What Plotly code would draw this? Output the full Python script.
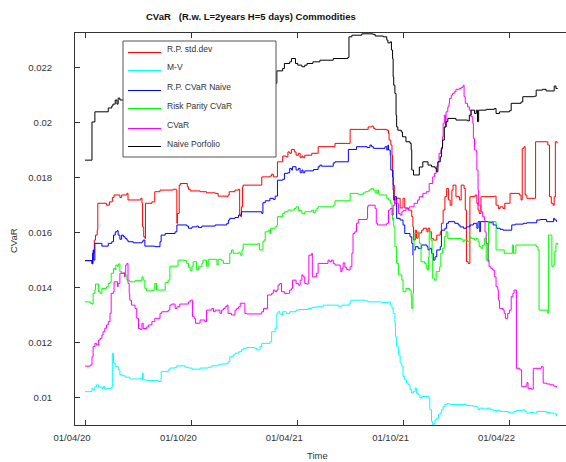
import plotly.graph_objects as go

# ---------------- data ----------------
rp_std_dates = ["2020-04-01","2020-04-13","2020-04-15","2020-04-17","2020-04-19","2020-04-22","2020-04-23","2020-05-08","2020-05-13","2020-05-18","2020-05-21","2020-05-31","2020-06-03","2020-06-12","2020-06-14","2020-07-06","2020-07-08","2020-07-09","2020-07-11","2020-07-13","2020-07-14","2020-07-25","2020-07-30","2020-08-08","2020-08-31","2020-09-05","2020-09-06","2020-09-07","2020-09-10","2020-09-12","2020-09-24","2020-09-26","2020-09-29","2020-10-16","2020-10-27","2020-11-11","2020-11-16","2020-12-01","2020-12-03","2020-12-05","2020-12-15","2020-12-21","2020-12-23","2020-12-25","2020-12-26","2020-12-28","2020-12-29","2021-01-30","2021-02-13","2021-02-16","2021-02-19","2021-02-26","2021-03-07","2021-03-13","2021-03-16","2021-03-19","2021-03-22","2021-03-27","2021-03-30","2021-04-03","2021-04-06","2021-04-09","2021-04-11","2021-04-14","2021-04-26","2021-05-07","2021-06-05","2021-07-01","2021-08-01","2021-08-07","2021-08-10","2021-08-13","2021-09-02","2021-09-05","2021-09-06","2021-09-09","2021-09-11","2021-09-12","2021-09-13","2021-09-15","2021-09-18","2021-09-25","2021-09-30","2021-10-03","2021-10-09","2021-10-15","2021-10-17","2021-10-18","2021-10-21","2021-10-23","2021-10-26","2021-11-01","2021-11-04","2021-11-10","2021-11-12","2021-11-15","2021-11-18","2021-11-21","2021-11-27","2021-12-03","2021-12-05","2021-12-08","2021-12-11","2021-12-14","2021-12-17","2021-12-20","2021-12-23","2021-12-25","2021-12-30","2022-01-05","2022-01-08","2022-01-13","2022-01-15","2022-01-17","2022-01-20","2022-01-23","2022-02-01","2022-02-04","2022-02-06","2022-02-08","2022-02-11","2022-03-06","2022-03-09","2022-03-13","2022-03-16","2022-03-21","2022-03-24","2022-04-02","2022-04-18","2022-04-21","2022-04-23","2022-04-26","2022-04-28","2022-05-01","2022-05-16","2022-06-06","2022-06-09","2022-06-12","2022-06-15","2022-06-17","2022-06-19","2022-06-22"]
rp_std_vals = [0.01498,0.01488,0.01525,0.01573,0.01591,0.01609,0.01707,0.01700,0.01712,0.01728,0.01737,0.01728,0.01737,0.01743,0.01719,0.01725,0.01707,0.01621,0.01585,0.01579,0.01707,0.01712,0.01749,0.01755,0.01758,0.01755,0.01634,0.01670,0.01773,0.01779,0.01767,0.01758,0.01752,0.01749,0.01745,0.01743,0.01733,0.01731,0.01737,0.01749,0.01755,0.01758,0.01664,0.01658,0.01694,0.01767,0.01773,0.01803,0.01806,0.01813,0.01803,0.01858,0.01879,0.01876,0.01894,0.01889,0.01903,0.01894,0.01882,0.01889,0.01873,0.01879,0.01873,0.01882,0.01889,0.01913,0.01925,0.01976,0.01985,0.01988,0.01980,0.01976,0.01973,0.01961,0.01937,0.01919,0.01882,0.01828,0.01773,0.01707,0.01725,0.01690,0.01725,0.01690,0.01682,0.01658,0.01621,0.01573,0.01609,0.01580,0.01599,0.01609,0.01616,0.01603,0.01616,0.01603,0.01579,0.01573,0.01591,0.01603,0.01634,0.01682,0.01731,0.01761,0.01719,0.01700,0.01755,0.01773,0.01731,0.01719,0.01773,0.01761,0.01682,0.01494,0.01488,0.01731,0.01737,0.01707,0.01682,0.01670,0.01731,0.01733,0.01700,0.01688,0.01694,0.01688,0.01707,0.01743,0.01737,0.01719,0.01907,0.01913,0.01737,0.01725,0.01931,0.01919,0.01731,0.01707,0.01700,0.01731,0.01931,0.01925]

mv_dates = ["2020-04-01","2020-04-13","2020-04-15","2020-04-18","2020-04-21","2020-04-24","2020-04-27","2020-04-30","2020-05-02","2020-05-05","2020-05-08","2020-05-16","2020-05-18","2020-05-20","2020-05-23","2020-05-28","2020-05-31","2020-06-03","2020-06-09","2020-06-17","2020-07-05","2020-07-08","2020-07-09","2020-07-10","2020-07-16","2020-08-05","2020-08-10","2020-08-22","2020-08-25","2020-09-03","2020-09-06","2020-09-20","2020-09-26","2020-10-02","2020-10-16","2020-10-30","2020-11-05","2020-11-16","2020-11-22","2020-12-03","2020-12-06","2020-12-12","2020-12-15","2020-12-21","2020-12-26","2020-12-29","2021-01-04","2021-01-18","2021-01-21","2021-01-27","2021-01-30","2021-02-13","2021-02-16","2021-02-22","2021-02-25","2021-02-27","2021-03-02","2021-03-05","2021-03-07","2021-03-13","2021-03-19","2021-03-30","2021-04-03","2021-04-20","2021-04-26","2021-05-02","2021-05-16","2021-06-11","2021-06-17","2021-06-28","2021-07-01","2021-07-04","2021-07-27","2021-08-01","2021-08-24","2021-09-05","2021-09-08","2021-09-11","2021-09-13","2021-09-16","2021-09-17","2021-09-19","2021-09-22","2021-09-25","2021-09-28","2021-09-30","2021-10-03","2021-10-06","2021-10-09","2021-10-12","2021-10-15","2021-10-18","2021-10-21","2021-10-23","2021-10-26","2021-10-29","2021-11-01","2021-11-13","2021-11-15","2021-11-18","2021-11-20","2021-11-22","2021-11-24","2021-11-27","2021-11-30","2021-12-03","2021-12-05","2021-12-08","2021-12-11","2021-12-14","2021-12-20","2022-01-17","2022-01-29","2022-02-04","2022-02-06","2022-02-09","2022-02-15","2022-02-21","2022-02-27","2022-03-04","2022-03-16","2022-03-30","2022-04-02","2022-04-09","2022-04-13","2022-04-25","2022-04-28","2022-05-01","2022-05-06","2022-05-12","2022-05-18","2022-06-04","2022-06-10","2022-06-16","2022-06-21"]
mv_vals = [0.01021,0.01033,0.01027,0.01039,0.01046,0.01039,0.01037,0.01033,0.01039,0.01030,0.01033,0.01037,0.01161,0.01125,0.01113,0.01101,0.01083,0.01079,0.01074,0.01067,0.01070,0.01064,0.01089,0.01064,0.01062,0.01058,0.01094,0.01101,0.01107,0.01110,0.01115,0.01110,0.01107,0.01103,0.01107,0.01110,0.01115,0.01119,0.01122,0.01130,0.01148,0.01155,0.01161,0.01166,0.01173,0.01179,0.01182,0.01179,0.01173,0.01185,0.01197,0.01203,0.01239,0.01252,0.01306,0.01312,0.01304,0.01300,0.01312,0.01306,0.01312,0.01318,0.01320,0.01324,0.01327,0.01330,0.01336,0.01332,0.01336,0.01340,0.01352,0.01354,0.01351,0.01348,0.01346,0.01348,0.01336,0.01324,0.01306,0.01270,0.01221,0.01185,0.01155,0.01125,0.01113,0.01076,0.01064,0.01052,0.01046,0.01028,0.01016,0.01022,0.01034,0.01016,0.01010,0.00998,0.01003,0.00998,0.00955,0.00912,0.00900,0.00906,0.00918,0.00924,0.00937,0.00943,0.00955,0.00967,0.00974,0.00977,0.00974,0.00970,0.00968,0.00965,0.00955,0.00961,0.00958,0.00961,0.00955,0.00953,0.00949,0.00945,0.00943,0.00949,0.00953,0.00955,0.00949,0.00943,0.00945,0.00943,0.00949,0.00945,0.00943,0.00940,0.00933]

rp_cvar_naive_dates = ["2020-04-01","2020-04-13","2020-04-14","2020-04-15","2020-04-16","2020-04-18","2020-04-30","2020-05-11","2020-05-17","2020-05-20","2020-05-23","2020-05-26","2020-05-28","2020-05-31","2020-06-03","2020-06-06","2020-06-09","2020-06-12","2020-06-14","2020-06-23","2020-07-08","2020-07-10","2020-07-13","2020-07-30","2020-08-08","2020-08-10","2020-08-17","2020-09-03","2020-09-06","2020-09-23","2020-09-26","2020-10-02","2020-10-10","2020-10-13","2020-10-19","2020-11-11","2020-12-01","2020-12-04","2020-12-06","2020-12-15","2020-12-21","2020-12-26","2021-01-30","2021-02-01","2021-02-05","2021-02-13","2021-02-19","2021-02-22","2021-02-26","2021-03-07","2021-03-10","2021-03-16","2021-03-19","2021-03-22","2021-03-24","2021-03-30","2021-04-03","2021-04-06","2021-04-09","2021-04-11","2021-04-14","2021-04-29","2021-05-07","2021-05-10","2021-05-13","2021-06-02","2021-06-05","2021-06-28","2021-07-12","2021-07-30","2021-08-04","2021-08-07","2021-08-10","2021-08-30","2021-09-02","2021-09-04","2021-09-05","2021-09-08","2021-09-09","2021-09-12","2021-09-13","2021-09-14","2021-09-16","2021-09-19","2021-09-25","2021-09-30","2021-10-03","2021-10-12","2021-10-15","2021-10-17","2021-10-18","2021-10-21","2021-10-26","2021-11-01","2021-11-10","2021-11-12","2021-11-15","2021-11-18","2021-11-21","2021-11-24","2021-11-27","2021-12-03","2021-12-05","2021-12-11","2021-12-14","2021-12-17","2021-12-28","2022-01-03","2022-01-06","2022-01-12","2022-01-17","2022-01-23","2022-01-29","2022-02-04","2022-02-06","2022-02-09","2022-02-10","2022-02-24","2022-03-02","2022-03-04","2022-03-10","2022-03-16","2022-03-21","2022-04-05","2022-04-11","2022-04-25","2022-05-01","2022-05-18","2022-05-24","2022-06-04","2022-06-16","2022-06-18","2022-06-21"]
rp_cvar_naive_vals = [0.01498,0.01486,0.01525,0.01537,0.01500,0.01561,0.01551,0.01561,0.01567,0.01591,0.01603,0.01607,0.01591,0.01576,0.01591,0.01585,0.01579,0.01573,0.01567,0.01563,0.01567,0.01573,0.01551,0.01549,0.01567,0.01591,0.01597,0.01603,0.01628,0.01624,0.01616,0.01621,0.01624,0.01619,0.01624,0.01628,0.01634,0.01646,0.01652,0.01655,0.01664,0.01676,0.01670,0.01709,0.01716,0.01725,0.01721,0.01733,0.01791,0.01794,0.01816,0.01818,0.01834,0.01828,0.01840,0.01828,0.01834,0.01818,0.01828,0.01818,0.01825,0.01830,0.01840,0.01846,0.01842,0.01854,0.01858,0.01903,0.01913,0.01910,0.01919,0.01913,0.01907,0.01913,0.01901,0.01919,0.01901,0.01882,0.01828,0.01803,0.01755,0.01719,0.01731,0.01652,0.01646,0.01628,0.01597,0.01585,0.01561,0.01518,0.01537,0.01549,0.01543,0.01555,0.01549,0.01537,0.01543,0.01525,0.01500,0.01512,0.01537,0.01549,0.01609,0.01616,0.01634,0.01640,0.01634,0.01628,0.01621,0.01616,0.01621,0.01628,0.01634,0.01616,0.01640,0.01603,0.01640,0.01636,0.01640,0.01628,0.01616,0.01612,0.01609,0.01628,0.01631,0.01634,0.01636,0.01646,0.01648,0.01640,0.01652,0.01646,0.01640]

rp_cvar_dates = ["2020-04-01","2020-04-10","2020-04-13","2020-04-15","2020-04-18","2020-04-19","2020-04-24","2020-04-27","2020-04-30","2020-05-08","2020-05-11","2020-05-14","2020-05-16","2020-05-20","2020-05-23","2020-05-24","2020-05-27","2020-05-28","2020-05-31","2020-06-03","2020-06-09","2020-06-12","2020-06-17","2020-06-26","2020-07-08","2020-07-10","2020-07-13","2020-07-16","2020-07-27","2020-07-30","2020-08-02","2020-08-17","2020-08-22","2020-08-25","2020-09-08","2020-09-20","2020-09-23","2020-09-26","2020-09-29","2020-10-02","2020-10-04","2020-10-10","2020-10-13","2020-10-19","2020-10-21","2020-10-27","2020-10-30","2020-11-14","2020-11-16","2020-11-22","2020-11-25","2020-12-06","2020-12-09","2020-12-12","2020-12-21","2020-12-24","2020-12-27","2020-12-29","2021-01-24","2021-01-26","2021-02-01","2021-02-03","2021-02-05","2021-02-10","2021-02-13","2021-02-14","2021-02-22","2021-02-25","2021-02-26","2021-03-07","2021-03-10","2021-03-16","2021-03-27","2021-03-30","2021-04-03","2021-04-09","2021-04-11","2021-04-14","2021-04-26","2021-04-29","2021-05-02","2021-05-05","2021-05-07","2021-06-02","2021-06-05","2021-07-01","2021-07-15","2021-07-24","2021-07-27","2021-08-01","2021-08-04","2021-08-07","2021-08-10","2021-08-13","2021-08-16","2021-08-19","2021-08-21","2021-09-02","2021-09-05","2021-09-08","2021-09-11","2021-09-12","2021-09-13","2021-09-14","2021-09-16","2021-09-19","2021-09-22","2021-09-28","2021-09-30","2021-10-05","2021-10-11","2021-10-14","2021-10-15","2021-10-17","2021-10-18","2021-10-19","2021-10-25","2021-10-28","2021-10-31","2021-11-06","2021-11-09","2021-11-11","2021-11-13","2021-11-14","2021-11-17","2021-11-19","2021-11-20","2021-11-23","2021-11-26","2021-12-02","2021-12-04","2021-12-07","2021-12-10","2021-12-13","2021-12-16","2022-01-08","2022-01-11","2022-01-13","2022-01-19","2022-01-22","2022-01-25","2022-01-31","2022-02-03","2022-02-06","2022-02-08","2022-02-11","2022-02-14","2022-02-17","2022-02-20","2022-02-23","2022-02-24","2022-03-09","2022-03-23","2022-04-06","2022-04-08","2022-04-12","2022-05-17","2022-05-20","2022-05-22","2022-06-06","2022-06-07","2022-06-13","2022-06-16","2022-06-17","2022-06-20","2022-06-23"]
rp_cvar_vals = [0.01348,0.01343,0.01340,0.01379,0.01391,0.01413,0.01385,0.01379,0.01397,0.01403,0.01415,0.01421,0.01452,0.01470,0.01464,0.01482,0.01476,0.01486,0.01458,0.01452,0.01446,0.01427,0.01421,0.01425,0.01439,0.01427,0.01397,0.01388,0.01391,0.01415,0.01391,0.01418,0.01427,0.01478,0.01500,0.01498,0.01488,0.01474,0.01461,0.01478,0.01494,0.01464,0.01476,0.01488,0.01500,0.01478,0.01503,0.01482,0.01503,0.01498,0.01488,0.01525,0.01537,0.01525,0.01527,0.01518,0.01537,0.01558,0.01561,0.01537,0.01567,0.01573,0.01603,0.01609,0.01597,0.01616,0.01621,0.01628,0.01658,0.01670,0.01676,0.01682,0.01688,0.01694,0.01680,0.01670,0.01668,0.01676,0.01682,0.01672,0.01682,0.01688,0.01694,0.01700,0.01716,0.01743,0.01740,0.01745,0.01749,0.01752,0.01758,0.01761,0.01755,0.01745,0.01755,0.01740,0.01737,0.01725,0.01719,0.01707,0.01688,0.01646,0.01652,0.01621,0.01549,0.01488,0.01446,0.01427,0.01385,0.01397,0.01391,0.01367,0.01324,0.01379,0.01549,0.01597,0.01603,0.01561,0.01494,0.01488,0.01470,0.01464,0.01512,0.01603,0.01573,0.01506,0.01434,0.01427,0.01458,0.01476,0.01525,0.01543,0.01585,0.01603,0.01579,0.01576,0.01567,0.01573,0.01567,0.01585,0.01579,0.01573,0.01579,0.01567,0.01549,0.01543,0.01555,0.01579,0.01500,0.01494,0.01640,0.01537,0.01525,0.01555,0.01525,0.01555,0.01549,0.01537,0.01318,0.01306,0.01591,0.01476,0.01482,0.01530,0.01561,0.01555]

cvar_dates = ["2020-04-01","2020-04-10","2020-04-13","2020-04-15","2020-04-18","2020-04-21","2020-04-24","2020-04-27","2020-04-30","2020-05-02","2020-05-05","2020-05-08","2020-05-11","2020-05-14","2020-05-16","2020-05-20","2020-05-21","2020-05-27","2020-05-28","2020-05-31","2020-06-06","2020-06-08","2020-06-09","2020-06-10","2020-06-12","2020-06-14","2020-06-16","2020-06-17","2020-06-20","2020-06-26","2020-06-29","2020-07-02","2020-07-05","2020-07-08","2020-07-10","2020-07-16","2020-07-19","2020-07-25","2020-07-30","2020-08-08","2020-08-11","2020-08-22","2020-08-25","2020-08-28","2020-09-03","2020-09-06","2020-09-11","2020-09-26","2020-09-29","2020-10-03","2020-10-06","2020-10-08","2020-10-16","2020-10-24","2020-10-27","2020-11-05","2020-11-08","2020-11-11","2020-11-19","2020-11-22","2020-11-25","2020-11-28","2020-12-01","2020-12-03","2020-12-09","2020-12-15","2020-12-18","2020-12-21","2020-12-24","2021-01-01","2021-01-04","2021-01-30","2021-02-02","2021-02-09","2021-02-16","2021-02-19","2021-02-22","2021-02-25","2021-02-27","2021-03-02","2021-03-05","2021-03-10","2021-03-19","2021-03-22","2021-03-24","2021-03-30","2021-04-03","2021-04-06","2021-04-09","2021-04-11","2021-04-14","2021-04-17","2021-04-20","2021-04-21","2021-04-26","2021-04-27","2021-05-04","2021-05-07","2021-05-24","2021-05-27","2021-05-30","2021-06-02","2021-06-05","2021-06-14","2021-06-15","2021-06-17","2021-06-19","2021-06-22","2021-06-25","2021-06-28","2021-07-01","2021-07-04","2021-07-06","2021-07-09","2021-07-12","2021-07-15","2021-07-30","2021-07-31","2021-08-01","2021-08-13","2021-08-15","2021-08-17","2021-09-02","2021-09-05","2021-09-08","2021-09-11","2021-09-13","2021-09-16","2021-09-19","2021-09-22","2021-09-25","2021-09-28","2021-09-30","2021-10-05","2021-10-11","2021-10-19","2021-10-25","2021-10-28","2021-11-03","2021-11-09","2021-11-14","2021-11-20","2021-11-23","2021-11-26","2021-11-29","2021-12-01","2021-12-04","2021-12-06","2021-12-07","2021-12-08","2021-12-10","2021-12-12","2021-12-13","2021-12-16","2021-12-18","2021-12-19","2021-12-22","2021-12-24","2021-12-27","2021-12-30","2022-01-05","2022-01-08","2022-01-11","2022-01-12","2022-01-13","2022-01-15","2022-01-19","2022-01-22","2022-01-25","2022-01-28","2022-01-29","2022-01-31","2022-02-03","2022-02-04","2022-02-06","2022-02-07","2022-02-11","2022-02-14","2022-02-17","2022-02-18","2022-02-20","2022-02-23","2022-02-25","2022-02-28","2022-03-03","2022-03-06","2022-03-09","2022-03-12","2022-03-13","2022-03-15","2022-03-21","2022-03-23","2022-03-25","2022-03-29","2022-04-01","2022-04-04","2022-04-07","2022-04-09","2022-04-13","2022-04-19","2022-04-22","2022-04-28","2022-05-01","2022-05-03","2022-05-09","2022-05-12","2022-05-26","2022-05-29","2022-06-04","2022-06-10","2022-06-16","2022-06-21"]
cvar_vals = [0.01114,0.01118,0.01148,0.01185,0.01197,0.01191,0.01209,0.01215,0.01227,0.01239,0.01252,0.01264,0.01276,0.01306,0.01379,0.01385,0.01421,0.01403,0.01415,0.01452,0.01454,0.01439,0.01452,0.01482,0.01488,0.01415,0.01379,0.01354,0.01336,0.01324,0.01288,0.01251,0.01248,0.01270,0.01251,0.01257,0.01264,0.01276,0.01288,0.01306,0.01312,0.01318,0.01336,0.01340,0.01324,0.01330,0.01340,0.01348,0.01354,0.01294,0.01288,0.01270,0.01282,0.01276,0.01318,0.01324,0.01312,0.01318,0.01306,0.01318,0.01324,0.01330,0.01336,0.01306,0.01300,0.01318,0.01324,0.01330,0.01343,0.01306,0.01304,0.01312,0.01324,0.01373,0.01379,0.01391,0.01385,0.01391,0.01409,0.01415,0.01385,0.01379,0.01391,0.01397,0.01427,0.01415,0.01409,0.01427,0.01446,0.01439,0.01415,0.01413,0.01427,0.01518,0.01525,0.01439,0.01452,0.01488,0.01500,0.01494,0.01500,0.01488,0.01482,0.01470,0.01458,0.01470,0.01490,0.01474,0.01466,0.01464,0.01476,0.01525,0.01597,0.01603,0.01634,0.01648,0.01652,0.01694,0.01700,0.01688,0.01634,0.01628,0.01634,0.01682,0.01688,0.01664,0.01700,0.01719,0.01707,0.01670,0.01664,0.01676,0.01680,0.01688,0.01694,0.01707,0.01719,0.01731,0.01743,0.01749,0.01779,0.01803,0.01816,0.01840,0.01858,0.01889,0.01901,0.01913,0.01949,0.01998,0.02028,0.01985,0.02040,0.02058,0.02071,0.02089,0.02101,0.02107,0.02113,0.02122,0.02125,0.02129,0.02134,0.02137,0.02095,0.02071,0.02058,0.02046,0.02022,0.01998,0.01943,0.01901,0.01894,0.01828,0.01755,0.01700,0.01676,0.01658,0.01646,0.01603,0.01561,0.01500,0.01476,0.01470,0.01464,0.01439,0.01403,0.01391,0.01354,0.01324,0.01318,0.01306,0.01288,0.01306,0.01318,0.01367,0.01379,0.01391,0.01106,0.01100,0.01039,0.01041,0.01054,0.01033,0.01030,0.01106,0.01112,0.01052,0.01049,0.01046,0.01041,0.01037]

naive_dates = ["2020-04-01","2020-04-13","2020-04-18","2020-05-11","2020-05-17","2020-05-19","2020-05-23","2020-05-26","2020-05-28","2020-05-31","2020-07-22","2020-10-16","2021-01-10","2021-02-01","2021-02-25","2021-03-07","2021-03-10","2021-03-19","2021-03-22","2021-03-29","2021-04-02","2021-04-09","2021-04-14","2021-04-18","2021-04-28","2021-05-10","2021-06-02","2021-06-27","2021-06-29","2021-07-04","2021-07-21","2021-08-09","2021-08-13","2021-08-27","2021-09-02","2021-09-04","2021-09-08","2021-09-10","2021-09-12","2021-09-13","2021-09-14","2021-09-16","2021-09-18","2021-09-19","2021-09-21","2021-09-27","2021-09-29","2021-10-05","2021-10-12","2021-10-14","2021-10-15","2021-10-18","2021-10-28","2021-11-03","2021-11-12","2021-11-18","2021-11-24","2021-11-27","2021-11-29","2021-12-03","2021-12-05","2021-12-07","2021-12-10","2021-12-13","2021-12-16","2021-12-30","2022-01-19","2022-01-22","2022-01-25","2022-01-31","2022-02-03","2022-02-05","2022-02-07","2022-02-20","2022-03-06","2022-03-09","2022-03-15","2022-04-01","2022-04-04","2022-04-21","2022-04-24","2022-05-14","2022-05-17","2022-05-28","2022-06-03","2022-06-17","2022-06-20","2022-06-23"]
naive_vals = [0.01864,0.02003,0.02040,0.02054,0.02061,0.02068,0.02083,0.02068,0.02090,0.02083,0.02097,0.02112,0.02126,0.02144,0.02189,0.02198,0.02216,0.02222,0.02234,0.02216,0.02210,0.02204,0.02210,0.02216,0.02222,0.02228,0.02234,0.02238,0.02313,0.02319,0.02324,0.02322,0.02316,0.02313,0.02301,0.02291,0.02295,0.02265,0.02234,0.02167,0.02137,0.02107,0.02028,0.01985,0.01973,0.01967,0.01949,0.01931,0.01925,0.01901,0.01828,0.01810,0.01839,0.01858,0.01846,0.01840,0.01835,0.01822,0.01858,0.01876,0.01908,0.01937,0.01985,0.02004,0.02016,0.02010,0.02007,0.02028,0.02046,0.02034,0.02046,0.02004,0.02046,0.02049,0.02052,0.02034,0.02040,0.02044,0.02071,0.02076,0.02095,0.02097,0.02119,0.02122,0.02116,0.02134,0.02125,0.02125]

series_names = ["R.P. std.dev", "M-V", "R.P. CVaR Naive", "Risk Parity CVaR", "CVaR", "Naive Porfolio"]
series_colors = ["#ff0000", "#00ffff", "#0000ff", "#00ff00", "#ff00ff", "#000000"]
series_x = [rp_std_dates, mv_dates, rp_cvar_naive_dates, rp_cvar_dates, cvar_dates, naive_dates]
series_y = [rp_std_vals, mv_vals, rp_cvar_naive_vals, rp_cvar_vals, cvar_vals, naive_vals]

x_tick_dates = ["2020-04-01", "2020-10-01", "2021-04-01", "2021-10-01", "2022-04-01"]
y_tick_vals = [0.010, 0.012, 0.014, 0.016, 0.018, 0.020, 0.022]

# ---------------- figure ----------------
W, H = 566, 462
ML, MR, MT, MB = 75, 0, 33, 37
PW, PH = W - ML - MR, H - MT - MB
FONT = "Liberation Sans, Arial, Helvetica, sans-serif"
TXT = "#333333"


def px_x(px):
    return (px - ML) / PW


def px_y(py):
    return (H - MB - py) / PH


fig = go.Figure()
for name, color, xs, ys in zip(series_names, series_colors, series_x, series_y):
    fig.add_trace(go.Scatter(x=xs, y=ys, mode="lines", name=name,
                             line=dict(color=color, width=1, shape="hv"),
                             showlegend=False))

axis_common = dict(showgrid=False, zeroline=False, showline=True,
                   linecolor="#333333", linewidth=1, ticks="inside",
                   ticklen=5, tickcolor="#333333",
                   tickfont=dict(family=FONT, size=9.5, color=TXT))

fig.update_xaxes(range=["2020-03-14 19:00", "2022-07-07 07:00"],
                 tickvals=x_tick_dates, tickformat="%d/%m/%y",
                 mirror="ticks", ticklabelstandoff=4, ticklabelshift=-13,
                 **axis_common)
fig.update_yaxes(range=[0.008996, 0.02327], tickvals=y_tick_vals,
                 ticktext=[f"{v:g}" for v in y_tick_vals],
                 mirror=False, ticklabelstandoff=20, **axis_common)

shapes = []
annotations = []

# legend box drawn over the lines
box_l, box_r, box_t, box_b = 123, 276, 41, 157
shapes.append(dict(type="rect", xref="paper", yref="paper",
                   x0=px_x(box_l), x1=px_x(box_r), y0=px_y(box_b), y1=px_y(box_t),
                   fillcolor="white", line=dict(color="#555555", width=1),
                   layer="above"))
row_y0, row_step = 48.5, 19
for i, (name, color) in enumerate(zip(series_names, series_colors)):
    ty = row_y0 + i * row_step
    ly = round(ty + 3) + 0.5
    shapes.append(dict(type="line", xref="paper", yref="paper",
                       x0=px_x(128), x1=px_x(161), y0=px_y(ly), y1=px_y(ly),
                       line=dict(color=color, width=1.2), layer="above"))
    annotations.append(dict(xref="paper", yref="paper", x=px_x(165), y=px_y(ty),
                            xanchor="left", yanchor="middle", showarrow=False,
                            text=name, font=dict(family=FONT, size=8.5, color=TXT)))

# title and axis labels
annotations.append(dict(xref="paper", yref="paper", x=px_x(250.5), y=px_y(17),
                        xanchor="center", yanchor="middle", showarrow=False,
                        text="<b>CVaR\u00a0\u00a0\u00a0(R.w. L=2years H=5 days) Commodities</b>",
                        font=dict(family=FONT, size=9.5, color="#111111")))
annotations.append(dict(xref="paper", yref="paper", x=px_x(14), y=px_y(241),
                        xanchor="center", yanchor="middle", showarrow=False,
                        textangle=-90, text="CVaR",
                        font=dict(family=FONT, size=9.5, color=TXT)))
annotations.append(dict(xref="paper", yref="paper", x=px_x(317), y=px_y(455.5),
                        xanchor="center", yanchor="middle", showarrow=False,
                        text="Time", font=dict(family=FONT, size=9.5, color=TXT)))

fig.update_layout(width=W, height=H, margin=dict(l=ML, r=MR, t=MT, b=MB),
                  plot_bgcolor="white", paper_bgcolor="white",
                  shapes=shapes, annotations=annotations, showlegend=False)

fig.write_html("out.html")
